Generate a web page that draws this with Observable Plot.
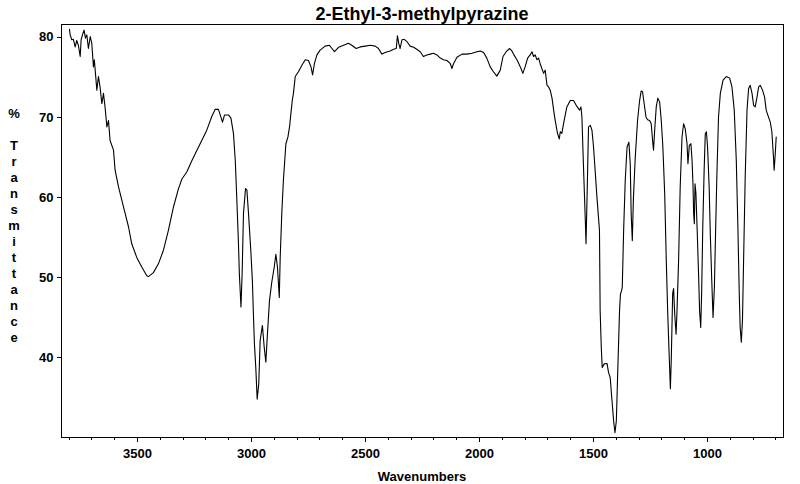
<!DOCTYPE html>
<html><head><meta charset="utf-8">
<script src="https://cdn.jsdelivr.net/npm/d3@7"></script>
<script src="https://cdn.jsdelivr.net/npm/@observablehq/plot@0.6"></script>
<style>html,body{margin:0;padding:0;background:#fff} svg{display:block}</style>
</head><body><div id="chart"></div>
<script>
const title = "2-Ethyl-3-methylpyrazine";
const xLabel = "Wavenumbers";
const yLabelLetters = ["%", "", "T", "r", "a", "n", "s", "m", "i", "t", "t", "a", "n", "c", "e"];
const xMajorTicks = [3500, 3000, 2500, 2000, 1500, 1000];
const xMinorTicks = [3800, 3700, 3600, 3400, 3300, 3200, 3100, 2900, 2800, 2700, 2600, 2400, 2300, 2200, 2100, 1900, 1800, 1700, 1600, 1400, 1300, 1200, 1100, 900, 800, 700];
const yTicks = [40, 50, 60, 70, 80];

const wavenumber = [
3798,3795,3788,3781,3773,3766,3759,3751,3747,3739,
3734,3728,3722,3715,3707,3700,3693,3689,3678,3671,
3664,3656,3649,3642,3634,3627,3620,3605,3598,3583,
3568,3554,3539,3525,3503,3481,3459,3452,3430,3408,
3386,3364,3342,3320,3305,3283,3261,3239,3218,3196,
3174,3159,3145,3137,3127,3118,3101,3090,3079,3071,
3064,3057,3053,3046,3041,3035,3026,3020,3013,3003,
2996,2991,2987,2981,2975,2968,2962,2952,2944,2937,
2930,2921,2911,2900,2893,2886,2878,2874,2867,2860,
2849,2840,2833,2827,2821,2816,2808,2794,2779,2764,
2750,2739,2732,2724,2713,2699,2677,2658,2647,2636,
2618,2596,2575,2560,2541,2523,2501,2479,2457,2443,
2428,2414,2392,2377,2365,2360,2354,2348,2340,2330,
2318,2304,2289,2275,2260,2246,2231,2216,2202,2187,
2172,2158,2143,2128,2121,2114,2099,2077,2055,2033,
2011,1997,1982,1968,1953,1939,1924,1909,1897,1883,
1868,1858,1851,1836,1821,1810,1800,1789,1778,1770,
1763,1756,1748,1741,1734,1719,1712,1704,1697,1690,
1682,1675,1668,1658,1650,1646,1639,1629,1617,1602,
1588,1576,1561,1555,1551,1544,1536,1533,1529,1522,
1514,1507,1500,1485,1474,1471,1466,1462,1453,1441,
1434,1427,1419,1412,1406,1400,1395,1386,1382,1377,
1374,1368,1361,1353,1345,1339,1335,1330,1325,1317,
1307,1298,1291,1285,1278,1270,1263,1254,1247,1241,
1237,1231,1225,1218,1210,1203,1196,1188,1181,1175,
1169,1163,1159,1153,1149,1144,1138,1134,1127,1120,
1112,1105,1098,1090,1086,1080,1073,1068,1064,1061,
1058,1055,1051,1045,1039,1035,1030,1026,1021,1015,
1010,1005,1000,993,988,982,976,970,965,959,
952,944,932,918,903,893,883,874,867,861,
857,852,847,842,835,827,820,813,805,798,
791,783,776,769,759,750,743,733,725,718,
711,708,703,699];

const transmittance = [
81.0,80.3,79.7,79.75,78.8,79.6,79.0,77.6,79.7,80.5,
80.9,79.9,80.3,78.6,80.1,79.2,76.3,77.2,73.4,75.1,
73.8,71.7,73.0,71.3,68.8,69.6,67.1,65.9,63.4,61.3,
59.6,58.0,56.3,54.2,52.5,51.3,50.2,50.1,50.6,51.7,
53.4,55.9,58.8,61.1,62.3,63.2,64.6,65.9,67.1,68.4,
70.1,71.0,71.0,70.3,69.4,70.3,70.3,69.9,68.0,64.6,
59.6,54.2,50.4,46.3,50.4,58.0,61.1,60.9,58.0,53.4,
49.6,45.0,41.7,38.7,34.8,36.7,42.1,44.0,41.25,39.4,
42.9,47.1,49.4,51.3,52.9,51.3,47.5,52.5,58.0,62.1,
66.7,67.55,68.8,70.5,72.1,73.0,75.1,75.7,76.5,77.2,
77.1,76.3,75.3,76.7,77.8,78.4,78.9,79.0,78.6,78.2,
78.75,79.0,79.25,79.0,78.6,78.8,78.9,79.0,78.9,78.6,
77.9,78.1,78.3,78.5,78.6,80.2,79.2,78.6,79.7,79.75,
79.45,78.9,78.75,78.5,78.2,77.6,77.8,77.9,78.0,77.8,
77.4,77.2,77.1,76.7,76.1,76.7,77.5,77.9,77.9,78.0,
78.2,78.3,78.1,77.4,76.3,75.7,75.15,75.9,77.6,78.2,
78.6,78.3,77.9,77.2,76.3,75.5,76.3,77.4,77.8,78.2,
77.6,77.8,77.2,77.4,76.7,75.5,75.9,74.0,73.8,73.4,
72.4,70.9,69.6,68.0,67.3,68.2,68.0,69.6,71.3,72.1,
72.1,71.5,70.9,71.3,70.05,63.8,57.1,54.2,59.2,68.8,
69.0,68.4,66.3,60.0,55.9,45.8,41.25,38.75,39.2,39.25,
38.1,37.5,34.6,32.1,30.6,32.1,37.1,45.85,47.9,48.35,
48.8,55.9,62.1,66.3,66.9,64.2,58.0,54.6,60.0,65.05,
69.6,72.1,73.3,73.2,71.7,70.05,69.7,69.6,69.2,67.1,
65.9,68.8,71.3,72.4,71.9,69.6,66.3,60.5,52.1,45.85,
40.85,36.1,39.9,48.0,48.6,45.4,42.9,45.85,52.1,61.3,
67.55,69.2,68.6,66.7,64.2,66.5,66.7,64.6,61.7,58.0,
56.7,61.7,60.5,55.45,50.0,45.85,43.75,47.95,56.3,63.4,
67.95,68.2,66.3,61.3,55.45,50.0,45.0,48.8,55.45,62.9,
70.05,73.0,74.65,75.1,74.9,73.8,70.9,64.6,56.3,47.95,
43.75,41.9,44.6,52.1,62.5,70.9,73.6,74.0,73.0,71.5,
71.3,72.55,73.8,74.0,73.4,72.55,70.9,70.05,69.4,68.2,
65.05,63.4,65.5,67.55];

const spectrum = wavenumber.map((w, i) => ({w, t: transmittance[i]}));

const font = "'Liberation Sans', Arial, sans-serif";

const chart = Plot.plot({
  width: 800,
  height: 484,
  marginLeft: 61,
  marginRight: 17,
  marginTop: 24,
  marginBottom: 47,
  x: {domain: [3833, 667], label: null},
  y: {domain: [30, 81.6], label: null},
  style: {fontFamily: font, fontSize: "13px", fontWeight: "bold", color: "black", background: "white"},
  marks: [
    Plot.axisX({ticks: xMinorTicks, tickSize: 3, tickFormat: () => "", label: null, shapeRendering: "crispEdges"}),
    Plot.axisX({ticks: xMajorTicks, tickSize: 5, tickPadding: 6, tickFormat: d => String(d), label: null, shapeRendering: "crispEdges"}),
    Plot.axisY({ticks: yTicks, tickSize: 4, tickPadding: 4, tickFormat: d => String(d), label: null, shapeRendering: "crispEdges"}),
    Plot.frame({stroke: "black", strokeWidth: 1, shapeRendering: "crispEdges"}),
    Plot.line(spectrum, {x: "w", y: "t", stroke: "black", strokeWidth: 1.1})
  ]
});

const svg = d3.select(chart);
svg.append("text")
  .attr("x", 422).attr("y", 20)
  .attr("text-anchor", "middle")
  .style("font-family", font).style("font-size", "18px").style("font-weight", "bold")
  .attr("fill", "black")
  .text(title);
svg.append("text")
  .attr("x", 422).attr("y", 481)
  .attr("text-anchor", "middle")
  .style("font-family", font).style("font-size", "13px").style("font-weight", "bold")
  .attr("fill", "black")
  .text(xLabel);
const yl = svg.append("text")
  .attr("text-anchor", "middle")
  .style("font-family", font).style("font-size", "13px").style("font-weight", "bold")
  .attr("fill", "black");
yLabelLetters.forEach((ch, i) => {
  yl.append("tspan").attr("x", 14).attr("y", 118 + 16 * i).text(ch);
});

document.getElementById("chart").appendChild(chart);
</script>
</body></html>
